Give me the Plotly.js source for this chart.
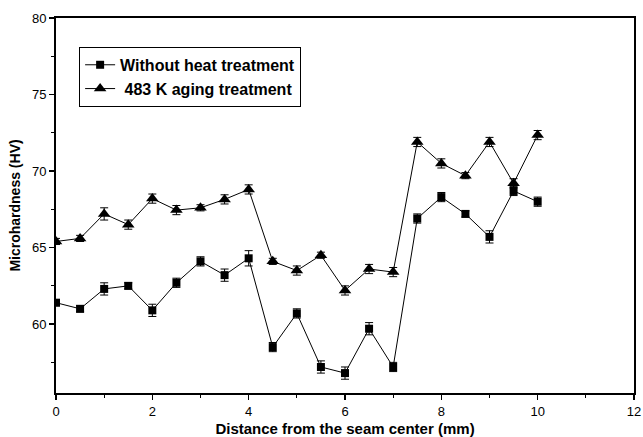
<!DOCTYPE html>
<html>
<head>
<meta charset="utf-8">
<script src="https://cdn.plot.ly/plotly-3.0.1.min.js"></script>
<style>html,body{margin:0;padding:0;background:#fff;}#chart{width:643px;height:437px;}</style>
</head>
<body>
<div id="chart"></div>
<script>
const distance = [0,0.5,1,1.5,2,2.5,3,3.5,4,4.5,5,5.5,6,6.5,7,7.5,8,8.5,9,9.5,10];
const withoutHeat = [61.4,61.0,62.3,62.5,60.9,62.7,64.1,63.2,64.3,58.5,60.7,57.2,56.8,59.7,57.2,66.9,68.3,67.2,65.7,68.7,68.0];
const withoutHeatErr = [0.2,0.2,0.4,0.2,0.4,0.3,0.3,0.4,0.5,0.3,0.3,0.4,0.4,0.4,0.3,0.3,0.3,0.2,0.4,0.3,0.3];
const aging483 = [65.4,65.6,67.2,66.5,68.2,67.45,67.6,68.15,68.8,64.1,63.5,64.5,62.2,63.6,63.4,71.9,70.5,69.7,71.9,69.2,72.35];
const aging483Err = [0.2,0.2,0.4,0.3,0.3,0.3,0.2,0.3,0.3,0.2,0.3,0.2,0.3,0.3,0.3,0.3,0.3,0.2,0.3,0.3,0.3];
const seriesNames = ['Without heat treatment','&nbsp;483 K aging treatment'];
const xTicks = [0,2,4,6,8,10,12];
const yTicks = [60,65,70,75,80];

const traces = [
  {x: distance, y: withoutHeat, name: seriesNames[0], type: 'scatter', mode: 'lines+markers',
   line: {color: '#000', width: 1}, marker: {symbol: 'square', size: 8, color: '#000'},
   error_y: {type: 'data', array: withoutHeatErr, visible: true, color: '#000', thickness: 1, width: 4}},
  {x: distance, y: aging483, name: seriesNames[1], type: 'scatter', mode: 'lines+markers',
   line: {color: '#000', width: 1}, marker: {symbol: 'triangle-up', size: 11, color: '#000'},
   error_y: {type: 'data', array: aging483Err, visible: true, color: '#000', thickness: 1, width: 4}}
];

const axisCommon = {
  showgrid: false, zeroline: false, showline: true, linecolor: '#000', linewidth: 2,
  mirror: true, ticks: 'outside', ticklen: 5, tickwidth: 1.5, tickcolor: '#000',
  tickfont: {family: 'Liberation Sans, Arial, sans-serif', size: 13, color: '#000'}
};

const layout = {
  width: 643, height: 437,
  margin: {l: 56, r: 9, t: 18, b: 44},
  paper_bgcolor: '#fff', plot_bgcolor: '#fff',
  showlegend: true,
  legend: {x: 0.04, y: 0.923, xanchor: 'left', yanchor: 'top', bordercolor: '#000', borderwidth: 1,
           bgcolor: '#fff', font: {family: 'Liberation Sans, Arial, sans-serif', size: 16, color: '#000', weight: 'bold'},
           tracegroupgap: 0},
  xaxis: Object.assign({}, axisCommon, {
    range: [0, 12], tickvals: xTicks, ticktext: xTicks.map(String),
    minor: {ticks: 'outside', ticklen: 3, tickwidth: 1, tickcolor: '#000', dtick: 1, tick0: 0},
    title: {text: '<b>Distance from the seam center (mm)</b>', standoff: 6,
            font: {family: 'Liberation Sans, Arial, sans-serif', size: 15, color: '#000'}}
  }),
  yaxis: Object.assign({}, axisCommon, {
    range: [55.5, 80], tickvals: yTicks, ticktext: yTicks.map(String),
    minor: {ticks: 'outside', ticklen: 3, tickwidth: 1, tickcolor: '#000', dtick: 2.5, tick0: 0},
    title: {text: '<b>Microhardness (HV)</b>', standoff: 8,
            font: {family: 'Liberation Sans, Arial, sans-serif', size: 14, color: '#000'}}
  })
};

Plotly.newPlot('chart', traces, layout, {displayModeBar: false, staticPlot: true});
</script>
</body>
</html>
